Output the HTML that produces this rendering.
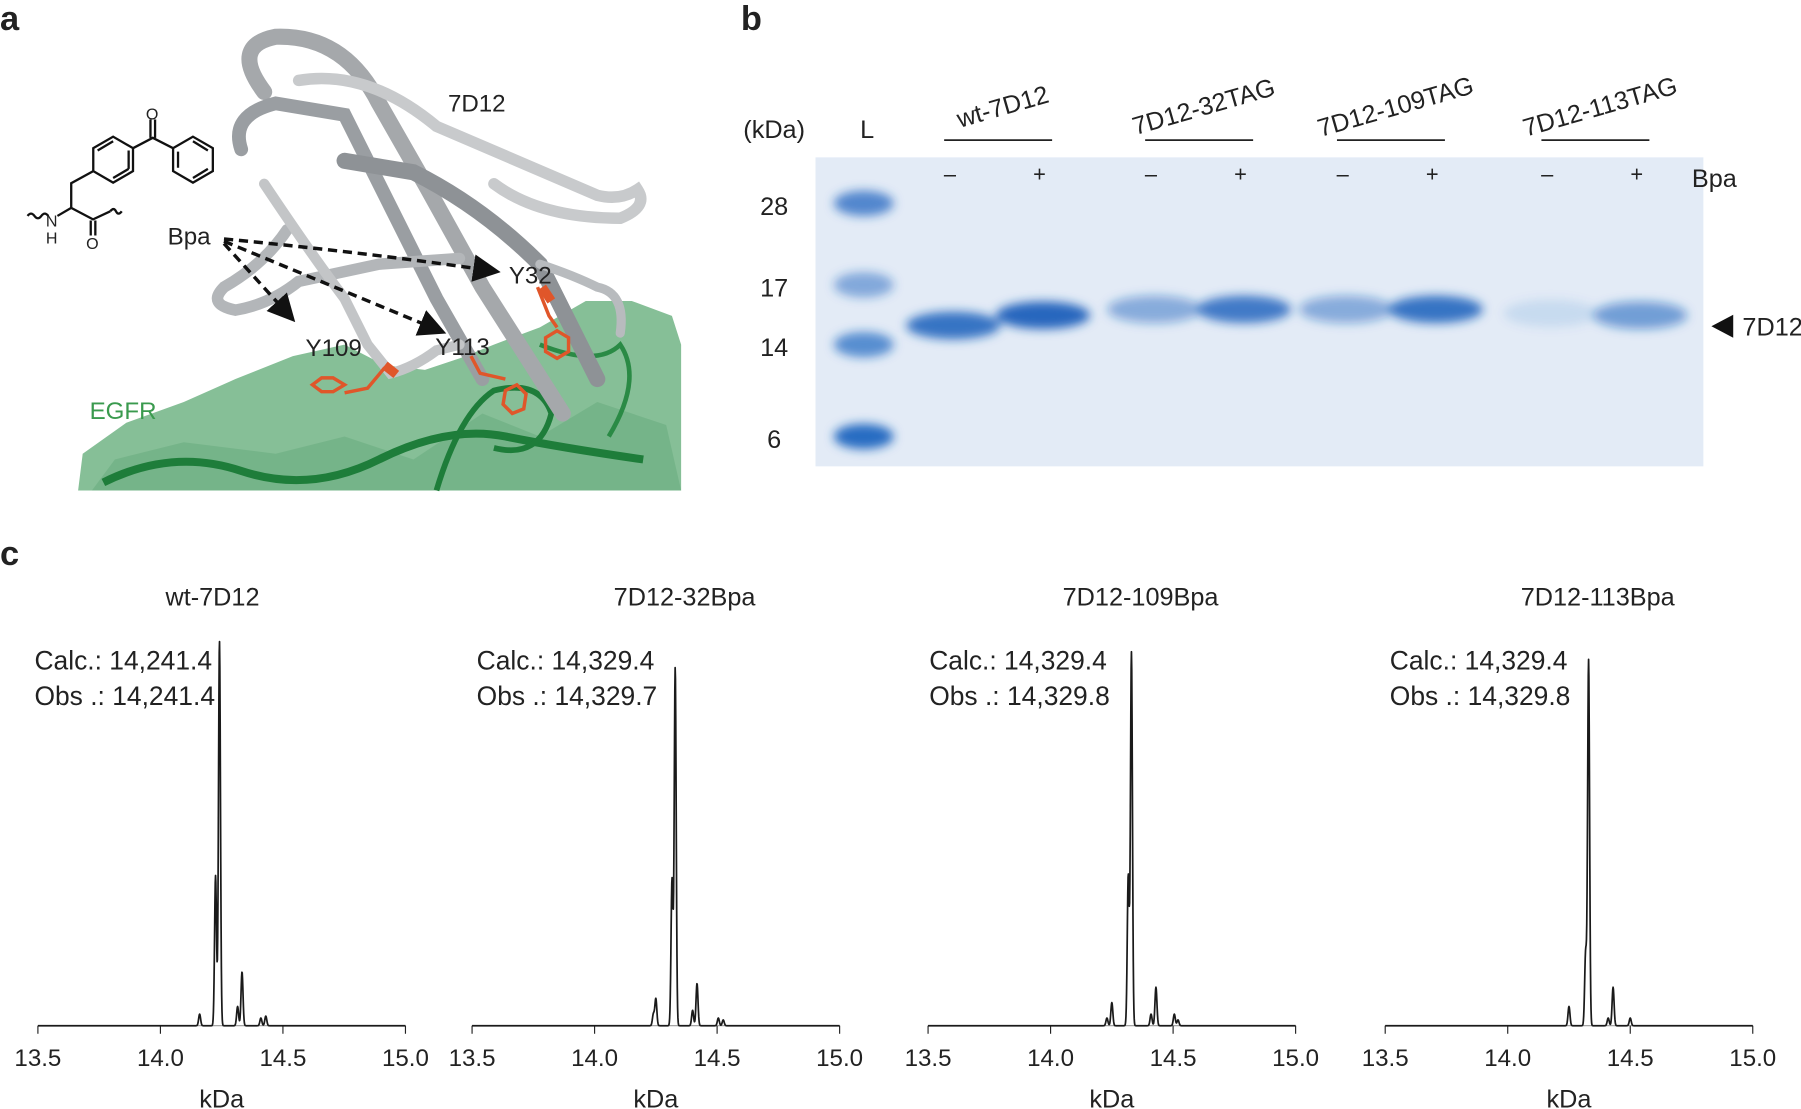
<!DOCTYPE html>
<html><head><meta charset="utf-8">
<style>
html,body{margin:0;padding:0;background:#fff;}
svg{display:block;}
text{font-family:"Liberation Sans",sans-serif;fill:#222;}
</style></head>
<body>
<svg id="fig" width="1801" height="1109" viewBox="0 0 1568 965.5" preserveAspectRatio="none" xmlns="http://www.w3.org/2000/svg">
<defs>
<filter id="blur4" x="-50%" y="-50%" width="200%" height="200%"><feGaussianBlur stdDeviation="4.5"/></filter>
<marker id="arr" markerWidth="8" markerHeight="8" refX="6" refY="4" orient="auto" markerUnits="strokeWidth"><path d="M0,0 L8,4 L0,8 z" fill="#111"/></marker>
</defs>

<text x="0" y="26" font-size="30" font-weight="bold" fill="#111">a</text>
<text x="645" y="26" font-size="30" font-weight="bold" fill="#111">b</text>
<text x="0" y="492" font-size="30" font-weight="bold" fill="#111">c</text>

<g>
  <g>
    <path d="M68,427 L72,395 L110,368 L160,350 L205,330 L255,310 L300,300 L335,318 L370,322 L400,312 L430,300 L470,285 L510,262 L550,262 L585,275 L593,300 L593,427 Z" fill="#86bf97"/>
    <path d="M80,427 L100,400 L160,385 L240,395 L300,380 L360,400 L420,360 L470,380 L520,350 L580,370 L593,427 Z" fill="#6aae80" opacity="0.6"/>
    <path d="M90,420 Q150,390 210,410 T330,400 T440,380 T560,400" stroke="#1e7d3a" stroke-width="7" fill="none"/>
    <path d="M380,427 Q400,360 430,340 Q470,330 480,360 Q470,400 430,390" stroke="#1e7d3a" stroke-width="5" fill="none"/>
    <path d="M470,300 Q520,320 540,300 Q560,330 530,380" stroke="#2a8a45" stroke-width="4" fill="none"/>
  </g>
  <g fill="none" stroke-linecap="round">
    <path d="M230,80 Q200,40 240,32 Q300,30 330,90 L370,160 L420,250 L490,360" stroke="#a5a8ab" stroke-width="14"/>
    <path d="M210,130 Q200,100 240,90 L300,100 L340,180 L380,260 L420,330" stroke="#9a9ea2" stroke-width="12"/>
    <path d="M260,70 Q320,60 380,110 Q450,140 520,170 Q540,175 555,165 Q565,180 540,190 Q470,190 430,160" stroke="#c8cacc" stroke-width="10"/>
    <path d="M300,140 L360,150 Q420,180 470,230 L500,290 L520,330" stroke="#8e9296" stroke-width="14"/>
    <path d="M250,200 Q230,230 195,250 Q180,265 205,270 Q235,265 260,245 L330,230 L400,225" stroke="#b3b6b9" stroke-width="10"/>
    <path d="M230,160 Q270,220 300,260 L320,300 L340,325 Q360,320 380,305 L400,300" stroke="#c3c5c7" stroke-width="9"/>
    <path d="M470,230 Q500,240 520,250 Q545,255 540,290" stroke="#b8bbbe" stroke-width="8"/>
  </g>
  <g stroke="#e0562a" stroke-width="3" fill="none">
    <path d="M468,250 L478,275 L485,285"/><polygon points="485,288 495,294 495,306 485,312 475,306 475,294"/>
    <path d="M335,320 L320,338 L300,342"/><polygon points="300,335 290,341 280,341 272,335 280,329 290,329"/>
    <path d="M410,310 L418,325 L440,330"/><polygon points="450,335 458,343 456,356 446,360 438,352 440,340"/>
    <path d="M472,250 L480,262" stroke-width="8"/><path d="M335,318 L345,326" stroke-width="8"/>
  </g>
  <text x="390" y="97" font-size="21">7D12</text>
  <text x="78" y="365" font-size="21" style="fill:#3a9a4e">EGFR</text>
  <text x="443" y="247" font-size="21">Y32</text>
  <text x="266" y="310" font-size="21">Y109</text>
  <text x="379" y="309" font-size="21">Y113</text>
  <text x="146" y="213" font-size="21">Bpa</text>
  <g stroke="#111" stroke-width="3" stroke-dasharray="8,5" fill="none">
    <path d="M195,208 Q320,220 430,236" marker-end="url(#arr)"/>
    <path d="M195,210 L383,288" marker-end="url(#arr)"/>
    <path d="M195,212 L253,276" marker-end="url(#arr)"/>
  </g>
  <g stroke="#111" stroke-width="2" fill="none">
    <polygon points="98.5,119 115.8,129 115.8,149 98.5,159 81.2,149 81.2,129"/>
    <path d="M85,131 L98.5,123 M112,147 L98.5,155 M112,131 L112,147"/>
    <polygon points="168,119 185.3,129 185.3,149 168,159 150.7,149 150.7,129"/>
    <path d="M155,132 L155,146 M168,123 L181,131 M168,155 L181,147"/>
    <path d="M115.8,129 L133,120 L150.7,129 M131,120 L131,104 M135,120 L135,104"/>
    <path d="M81.2,149 L62,159.5 L62,181"/>
    <path d="M62,181 L50,188 M62,181 L81,191 L96,184 M79,192 L79,205 M83,192 L83,205"/>
    <path d="M42,188 q-3,-4 -6,0 t-6,0 t-6,0"/>
    <path d="M96,184 q3,-4 5,0 t5,0"/>
  </g>
  <text x="127" y="104" font-size="14">O</text>
  <text x="40" y="197" font-size="14">N</text>
  <text x="40" y="212" font-size="14">H</text>
  <text x="75" y="217" font-size="14">O</text>
</g>

<g id="gel"></g>
<g id="spectra"></g>
</svg>

<script>
// ---------- Panel b data ----------
const markerLabels = ["28","17","14","6"];
const markerKDa = [28, 17, 14, 6];
const groupNames = ["wt-7D12","7D12-32TAG","7D12-109TAG","7D12-113TAG"];
const laneSigns = ["\u2013","+","\u2013","+","\u2013","+","\u2013","+"];
const bandIntensity = [0.85, 0.95, 0.45, 0.8, 0.45, 0.85, 0.12, 0.55];
const bandKDa = [14.9, 15.4, 15.7, 15.7, 15.7, 15.7, 15.5, 15.4];
const ladderIntensity = [0.75, 0.5, 0.7, 0.95];

// ---------- Panel c data ----------
const spectrumTitles = ["wt-7D12","7D12-32Bpa","7D12-109Bpa","7D12-113Bpa"];
const calcMass = ["14,241.4","14,329.4","14,329.4","14,329.4"];
const obsMass = ["14,241.4","14,329.7","14,329.8","14,329.8"];
const xTicks = [13.5, 14.0, 14.5, 15.0];
const xTickLabels = ["13.5","14.0","14.5","15.0"];
const peaks1Mass = [14.160, 14.225, 14.241, 14.315, 14.333, 14.410, 14.430];
const peaks1Int  = [3, 39, 100, 5, 14, 2, 2.5];
const peaks2Mass = [14.240, 14.250, 14.316, 14.329, 14.400, 14.418, 14.505, 14.525];
const peaks2Int  = [3, 7, 38, 93, 4, 11, 2, 1.5];
const peaks3Mass = [14.230, 14.250, 14.317, 14.330, 14.410, 14.430, 14.505, 14.520];
const peaks3Int  = [2, 6, 39, 97, 3, 10, 3, 1.5];
const peaks4Mass = [14.250, 14.318, 14.330, 14.410, 14.430, 14.500];
const peaks4Int  = [5, 19, 95, 2, 10, 2];
const allPeakMass = [peaks1Mass, peaks2Mass, peaks3Mass, peaks4Mass];
const allPeakInt = [peaks1Int, peaks2Int, peaks3Int, peaks4Int];

const NS = "http://www.w3.org/2000/svg";
function mk(tag, attrs, parent){ const e=document.createElementNS(NS,tag); for(const k in attrs) e.setAttribute(k,attrs[k]); parent.appendChild(e); return e; }

// ----- Gel -----
const gel = document.getElementById('gel');
const gx0=710, gx1=1483, gy0=137, gy1=406;
const markerY = [177, 248, 300, 380];
function kdaY(k){
  const lk=Math.log(k);
  for(let i=0;i<markerKDa.length-1;i++){
    const a=Math.log(markerKDa[i]), b=Math.log(markerKDa[i+1]);
    if(lk<=a && lk>=b){ return markerY[i]+(a-lk)/(a-b)*(markerY[i+1]-markerY[i]); }
  }
  return markerY[0];
}
const laneX = i => 830 + Math.floor(i/2)*175 + (i%2)*78 + (i>=4?-8:0) + (i>=6?3:0);
const bg = mk('rect',{x:gx0,y:gy0,width:gx1-gx0,height:gy1-gy0,fill:'#e3ebf6'},gel);


const bandsG = mk('g',{filter:'url(#blur4)'},gel);
ladderIntensity.forEach((v,i)=>{
  const r = mk('ellipse',{cx:752,cy:kdaY(markerKDa[i]),rx:26,ry:11,fill:'#1f66c0','fill-opacity':v},bandsG);
  
  
});
bandIntensity.forEach((v,i)=>{
  const cx=laneX(i), cy=kdaY(bandKDa[i]);
  const r = mk('ellipse',{cx:cx,cy:cy,rx:41,ry:12,fill:'#1a5fbb','fill-opacity':v},bandsG);
  
  
});
markerLabels.forEach((l,i)=>{
  const t=mk('text',{x:674,y:kdaY(markerKDa[i])+10,'font-size':22,'text-anchor':'middle'},gel); t.textContent=l;
  
  
});
const t0=mk('text',{x:674,y:120,'font-size':22,'text-anchor':'middle'},gel); t0.textContent='(kDa)';


const tL=mk('text',{x:755,y:120,'font-size':22,'text-anchor':'middle'},gel); tL.textContent='L';


groupNames.forEach((g,i)=>{
  const cx=(laneX(2*i)+laneX(2*i+1))/2;
  const ln=mk('line',{x1:cx-47,y1:122,x2:cx+47,y2:122,stroke:'#222','stroke-width':1.5},gel);
  
  
  const t=mk('text',{x:cx+6,y:100,'font-size':22,'text-anchor':'middle',transform:'rotate(-16 '+(cx+6)+' 100)'},gel); t.textContent=g;
  
  
});
laneSigns.forEach((s,i)=>{
  const t=mk('text',{x:laneX(i)-3,y:158,'font-size':19,'text-anchor':'middle'},gel); t.textContent=s;
  
  
});
const tb=mk('text',{x:1473,y:163,'font-size':22},gel); tb.textContent='Bpa';


const tri=mk('polygon',{points:'1490,284 1509,274 1509,294',fill:'#111'},gel);


const t7=mk('text',{x:1517,y:292,'font-size':22},gel); t7.textContent='7D12';



// ----- Spectra -----
const sp = document.getElementById('spectra');
const panelX0=[33, 411, 808, 1206], panelW=320;
const baseY=893, plotH=335;
allPeakMass.forEach((masses,p)=>{
  const g=mk('g',{},sp);
  
  
  const xs = m => panelX0[p] + (m-13.5)/1.5*panelW;
  const ys = v => baseY - v/100*plotH;
  const cx = panelX0[p]+panelW/2;
  const ti=mk('text',{x:cx+25-(p==0?33:0),y:527,'font-size':22,'text-anchor':'middle'},g); ti.textContent=spectrumTitles[p];
  
  
  const lx = panelX0[p]-3+(p==1?7:0)+(p==2?4:0)+(p==3?7:0);
  const c1=mk('text',{x:lx,y:583,'font-size':23},g); c1.textContent='Calc.: '+calcMass[p];
  
  
  const o1=mk('text',{x:lx,y:614,'font-size':23},g); o1.textContent='Obs .: '+obsMass[p];
  
  
  const ax=mk('line',{x1:xs(13.5),y1:baseY,x2:xs(15.0),y2:baseY,stroke:'#999','stroke-width':1},g);
  
  
  xTicks.forEach((tv,i)=>{
    const tk=mk('line',{x1:xs(tv),y1:baseY,x2:xs(tv),y2:baseY+7,stroke:'#222','stroke-width':1},g);
    
    
    const tl=mk('text',{x:xs(tv),y:928,'font-size':21,'text-anchor':'middle'},g); tl.textContent=xTickLabels[i];
    
    
  });
  const xl=mk('text',{x:cx,y:964,'font-size':22,'text-anchor':'middle'},g); xl.textContent='kDa';
  
  
  const ints = allPeakInt[p];
  let d='';
  const N=1200;
  for(let k=0;k<=N;k++){
    const m=13.5+1.5*k/N;
    let v=0;
    masses.forEach((pm,j)=>{ const w=0.004; v+=ints[j]*Math.exp(-((m-pm)*(m-pm))/(2*w*w)); });
    d+=(k?'L':'M')+xs(m).toFixed(2)+','+ys(v).toFixed(2);
  }
  const tr=mk('path',{d:d,fill:'none',stroke:'#1a1a1a','stroke-width':1.5,'stroke-linejoin':'round'},g);
  
  
});
</script>
</body></html>
